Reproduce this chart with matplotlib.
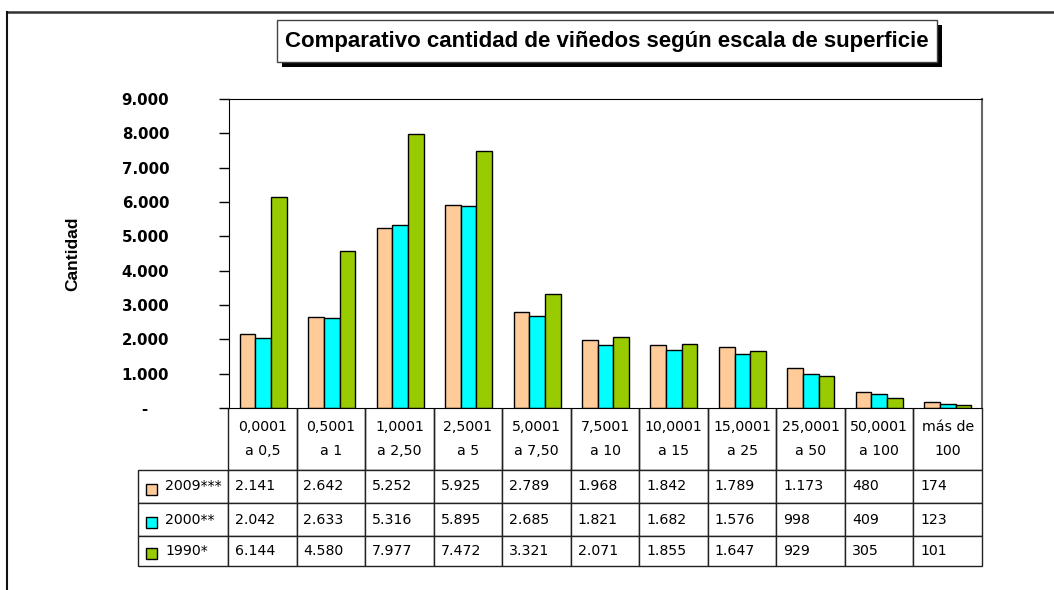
import matplotlib
matplotlib.use("Agg")
import matplotlib.pyplot as plt
from matplotlib.patches import Rectangle
from matplotlib.lines import Line2D
import numpy as np

# Data
categories = ["0,0001\na 0,5", "0,5001\na 1", "1,0001\na 2,50", "2,5001\na 5",
              "5,0001\na 7,50", "7,5001\na 10", "10,0001\na 15", "15,0001\na 25",
              "25,0001\na 50", "50,0001\na 100", "más de\n100"]
series_names = ["2009***", "2000**", "1990*"]
v2009 = [2141, 2642, 5252, 5925, 2789, 1968, 1842, 1789, 1173, 480, 174]
v2000 = [2042, 2633, 5316, 5895, 2685, 1821, 1682, 1576, 998, 409, 123]
v1990 = [6144, 4580, 7977, 7472, 3321, 2071, 1855, 1647, 929, 305, 101]
colors = ["#FFCC99", "#00FFFF", "#99CC00"]
yticks = [0, 1000, 2000, 3000, 4000, 5000, 6000, 7000, 8000, 9000]


def fmt(v):
    return f"{v:,}".replace(",", ".")


W, H = 1054, 590
fig = plt.figure(figsize=(W / 100, H / 100), dpi=100)

# plot area in pixels
x0, x1, ytop, ybot = 229, 982, 99, 408
ax = fig.add_axes([x0 / W, 1 - ybot / H, (x1 - x0) / W, (ybot - ytop) / H])

series = [v2009, v2000, v1990]
x = np.arange(len(categories))
bw = 0.229
for i, (vals, c) in enumerate(zip(series, colors)):
    ax.bar(x + (i - 1) * bw, vals, width=bw, color=c, edgecolor="black", linewidth=1)

ax.set_xlim(-0.5, len(categories) - 0.5)
ax.set_ylim(0, 9000)
ax.set_yticks(yticks)
ax.set_yticklabels(["-    "] + [fmt(t) for t in yticks[1:]],
                   fontsize=10.8, fontweight="bold", family="DejaVu Sans")
ax.tick_params(axis="y", direction="out", length=7, width=1, pad=36)
ax.set_xticks([])
for s in ["left", "top", "bottom"]:
    ax.spines[s].set_color("black")
ax.spines["right"].set_color("#666666")
ax.spines["right"].set_linewidth(1.5)

ax.set_ylabel("Cantidad", fontsize=12.5, fontweight="bold", family="Liberation Sans")
ax.yaxis.set_label_coords((80 - x0) / (x1 - x0), 0.5)

# table under the axes
cell_text = [[""] + categories]
for name, vals in zip(series_names, series):
    cell_text.append([name] + [fmt(v) for v in vals])

tl, tr, tb = 138, 982, 566
axw, axh = x1 - x0, ybot - ytop
tbl = ax.table(cellText=cell_text,
               bbox=[(tl - x0) / axw, (ybot - tb) / axh, (tr - tl) / axw, (tb - ybot) / axh],
               cellLoc="left")
tbl.auto_set_font_size(False)
row_h = [62, 33, 33, 30]
col_w = [90] + [68.5] * len(categories)
for (r, c), cell in tbl.get_celld().items():
    cell.set_height(row_h[r])
    cell.set_width(col_w[c])
    cell.set_linewidth(1)
    cell.set_edgecolor("#222222")
    cell.get_text().set_fontsize(10.2)
    cell.get_text().set_family("DejaVu Sans")
    if r == 0:
        cell.get_text().set_ha("center")
        cell._loc = "center"
        cell.get_text().set_linespacing(1.95)
        if c == 0:
            cell.visible_edges = ""
        else:
            cell.visible_edges = "LRB"
    if c == 0 and r > 0:
        cell.PAD = 0.3

# legend swatches in the first column
for i, c in enumerate(colors):
    yc = ybot + row_h[0] + sum(row_h[1:1 + i]) + row_h[1 + i] / 2 + 2
    ax.add_patch(Rectangle(((146 - x0) / axw, (ybot - yc - 6) / axh), 11 / axw, 11 / axh,
                           transform=ax.transAxes, facecolor=c, edgecolor="black",
                           linewidth=1, clip_on=False))

# title box with shadow
bx0, bx1, by0, by1 = 277, 937, 20, 62
fig.add_artist(Rectangle(((bx0 + 5) / W, 1 - (by1 + 5) / H), (bx1 - bx0) / W, (by1 - by0) / H,
                         transform=fig.transFigure, facecolor="black", edgecolor="none"))
fig.add_artist(Rectangle((bx0 / W, 1 - by1 / H), (bx1 - bx0) / W, (by1 - by0) / H,
                         transform=fig.transFigure, facecolor="white", edgecolor="#444444",
                         linewidth=1))
fig.text((bx0 + bx1) / 2 / W, 1 - (by0 + by1) / 2 / H,
         "Comparativo cantidad de viñedos según escala de superficie",
         ha="center", va="center", fontsize=16, fontweight="bold", family="Liberation Sans")

# outer frame lines
fig.add_artist(Line2D([7 / W, 1], [1 - 12 / H, 1 - 12 / H], transform=fig.transFigure,
                      color="#333333", linewidth=1.8))
fig.add_artist(Line2D([7 / W, 7 / W], [0, 1 - 12 / H], transform=fig.transFigure,
                      color="#111111", linewidth=1.5))

fig.savefig("out.png", dpi=100)
